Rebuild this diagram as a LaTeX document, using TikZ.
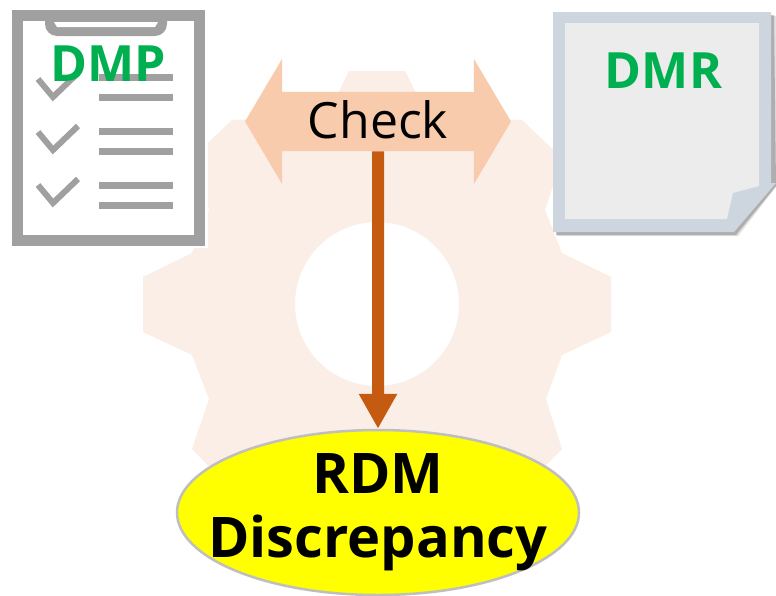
\documentclass[tikz,border=0pt]{standalone}
\usepackage{fontspec}
\setmainfont{Open Sans}
\usepackage{tikz}
\usetikzlibrary{shapes}
\usetikzlibrary{shapes.arrows}
\usetikzlibrary{arrows.meta}
\usetikzlibrary{positioning}
\definecolor{gearfill}{HTML}{FBEEE6}
\definecolor{checkfill}{HTML}{F8CBAD}
\definecolor{arrowfill}{HTML}{C55A11}
\definecolor{boardgray}{HTML}{A0A0A0}
\definecolor{pageedge}{HTML}{CDD5DF}
\definecolor{pagefill}{HTML}{ECECEC}
\definecolor{docgreen}{HTML}{00B050}
\definecolor{rdmedge}{HTML}{BFBFBF}
\definecolor{rdmfill}{HTML}{FFFF00}
\begin{document}
\begin{tikzpicture}[x=1pt,y=-1pt]
\tikzstyle{docname} = [text=docgreen, font=\fontsize{50}{50}\selectfont\bfseries, inner sep=0pt]
\tikzstyle{checkarrow} = [double arrow, fill=checkfill, inner xsep=20pt, inner ysep=0pt,
text height=46pt, text depth=13pt, minimum height=266pt,
double arrow head extend=33pt, double arrow tip angle=118.7, double arrow head indent=0pt,
font=\fontsize{50}{50}\selectfont]
\tikzstyle{discrepancy} = [ellipse, draw=rdmedge, line width=2.5pt, fill=rdmfill,
inner xsep=-28pt, inner ysep=-3pt, minimum width=402pt, minimum height=165pt, align=center,
font=\fontsize{56}{64}\selectfont\bfseries]
\tikzstyle{bar} = [boardgray, line width=7pt]
\tikzstyle{tick} = [boardgray, line width=6pt]
\useasboundingbox (0,0) rectangle (776,595);
\fill[white] (0,0) rectangle (776,595);
% gear
\fill[gearfill, even odd rule] (349,71) -- (405,71) -- (417,95) -- (470,118) -- (522,120) -- (562,158)
 -- (545,210) -- (562,253) -- (611,277) -- (611,332) -- (562,355) -- (546,399) -- (562,449)
 -- (522,490) -- (470,492) -- (417,515) -- (405,539) -- (349,539) -- (337,515) -- (284,492)
 -- (232,490) -- (192,449) -- (209,399) -- (192,355) -- (143,332) -- (143,277) -- (192,253)
 -- (209,210) -- (192,158) -- (232,120) -- (284,118) -- (337,95) -- cycle
 (377,304) circle [radius=82];
% checklist
\fill[white] (0,0) rectangle (208,248);
\draw[boardgray, line width=11pt] (17.5,15.5) rectangle (199,240);
\fill[boardgray] (45,15) -- (167,15) -- (167,24) arc [start angle=0, end angle=90, radius=12] -- (57,36)
 arc [start angle=90, end angle=180, radius=12] -- cycle;
\fill[white] (54,22) -- (158,22) -- (155,27) -- (57,27) -- cycle;
\foreach \y in {79,132,185} {
  \draw[tick] (38,\y) -- (53,\y+18) -- (78,\y-6);
}
\foreach \y in {77,97,131,151,185,205} {
  \draw[bar] (99,\y) -- (173,\y);
}
\node[docname] (dmp) at (108,63.5) {DMP};
% report page
\fill[black, opacity=0.12] (557,16) -- (776,16) -- (776,187) -- (738,236) -- (557,236) -- cycle;
\fill[black, opacity=0.22] (556,15) -- (774,15) -- (776,186) -- (736,235) -- (556,235) -- cycle;
\fill[pageedge] (553,12) -- (771,12) -- (771,183) -- (776,183) -- (734,232) -- (553,232) -- cycle;
\fill[pagefill] (565,23) -- (759,23) -- (759,186) -- (733,193) -- (727,219) -- (565,219) -- cycle;
\node[docname] (dmr) at (663.5,70.5) {DMR};
% check and result
\node[checkarrow] (check) at (378,121.5) {Check};
\node[discrepancy] (rdm) at (378,512.5) {RDM\\Discrepancy};
\draw[-{Triangle[length=35pt,width=36pt]}, arrowfill, line width=12pt] (check.south) -- (rdm.north);
\end{tikzpicture}
\end{document}
